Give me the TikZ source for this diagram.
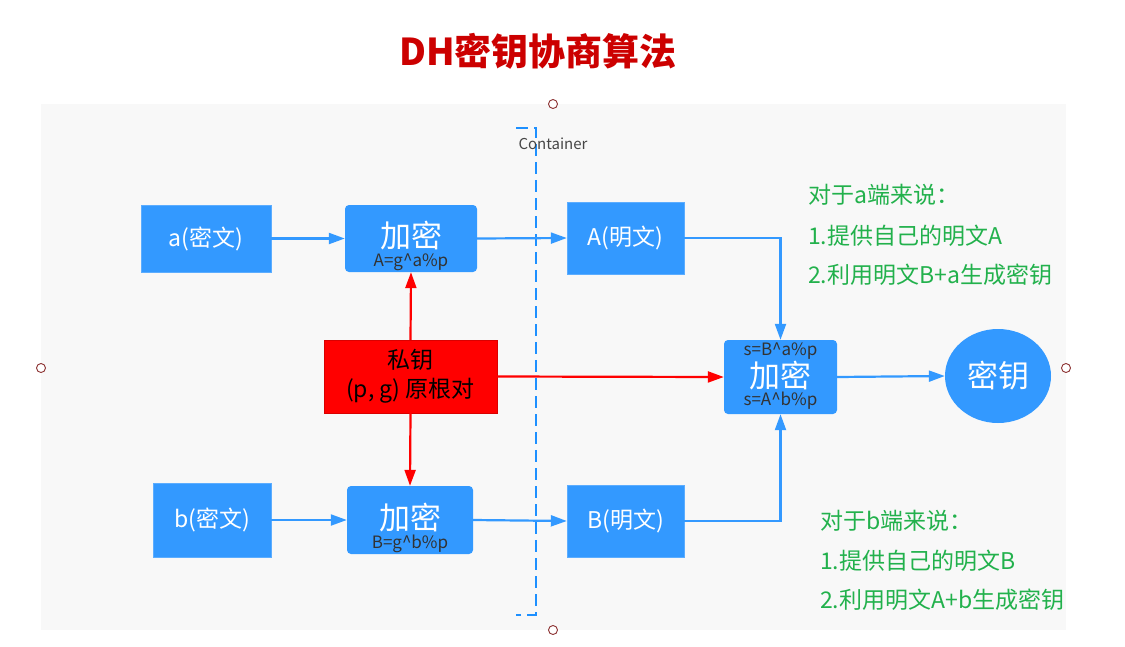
\documentclass[tikz,border=0pt]{standalone}
\usepackage{fontspec}
\setmainfont{Noto Sans CJK SC}
\usetikzlibrary{arrows.meta,shapes.geometric}
\definecolor{bluebox}{RGB}{51,153,255}
\definecolor{redbox}{RGB}{255,0,0}
\definecolor{titlered}{RGB}{204,0,0}
\definecolor{greentext}{RGB}{34,177,76}
\definecolor{bggray}{RGB}{248,248,248}
\definecolor{dashblue}{RGB}{30,144,255}
\definecolor{handle}{RGB}{140,50,50}
\definecolor{subtext}{RGB}{50,50,50}
\tikzset{
  bluerect/.style={rectangle,fill=bluebox,draw=bluebox!80!white,text=white,inner sep=0pt,font=\fontsize{23}{26}\selectfont},
  encbox/.style={rectangle,rounded corners=4pt,fill=bluebox,text=white,inner sep=0pt},
  enctext/.style={text=white,inner sep=0pt,font=\fontsize{31}{34}\selectfont},
  subt/.style={text=subtext,inner sep=0pt,font=\fontsize{17}{19}\selectfont},
  bluearrow/.style={draw=bluebox,line width=2.2pt,-{Triangle[length=16pt,width=11pt]}},
  redarrow/.style={draw=redbox,line width=2.2pt,-{Triangle[length=16pt,width=11pt]}},
  greenline/.style={text=greentext,anchor=west,inner sep=0pt,font=\fontsize{23}{26}\selectfont},
  handlecirc/.style={circle,draw=handle,fill=white,line width=0.9pt,minimum size=9pt,inner sep=0pt},
}
\begin{document}
\begin{tikzpicture}[x=1pt,y=-1pt]
\useasboundingbox[fill=white] (0,0) rectangle (1125,646);
% background
\fill[bggray] (41,104) rectangle (1066,630);
% title
\node[text=titlered,font=\fontsize{37}{42}\selectfont\bfseries] (title) at (538,51) {DH密钥协商算法};
% container
\draw[dashblue,line width=2.5pt,dash pattern=on 12pt off 6pt] (516,128) -- (536,128) -- (536,615) -- (516,615);
\node[text=subtext!90!white,font=\fontsize{15}{17}\selectfont,inner sep=0pt] (cont) at (553,144) {Container};
% nodes
\node[bluerect,minimum width=130pt,minimum height=67pt] (a) at (206,238.5) {a(密文)};
\node[encbox,minimum width=132pt,minimum height=67pt] (ea) at (411,238.5) {};
\node[enctext] (eat) at (411,236) {加密};
\node[subt] (eas) at (411,262) {A=g\^{}a\%p};
\node[bluerect,minimum width=117pt,minimum height=72pt] (A) at (625.5,238) {A(明文)};

\node[rectangle,fill=redbox,draw=redbox!85!black,inner sep=0pt,minimum width=173pt,minimum height=73pt,align=center,font=\fontsize{23}{29}\selectfont] (key) at (410.5,376.5) {私钥\\(p, g) 原根对};

\node[bluerect,minimum width=118pt,minimum height=74pt] (b) at (212,520) {b(密文)};
\node[encbox,minimum width=126pt,minimum height=68pt] (eb) at (410,520) {};
\node[enctext] (ebt) at (410,518) {加密};
\node[subt] (ebs) at (410,544) {B=g\^{}b\%p};
\node[bluerect,minimum width=117pt,minimum height=72pt] (B) at (625.5,521) {B(明文)};

\node[encbox,minimum width=113pt,minimum height=74pt] (es) at (780.5,377) {};
\node[enctext] (est) at (780.5,376) {加密};
\node[subt] (es1) at (780.5,351) {s=B\^{}a\%p};
\node[subt] (es2) at (780.5,401) {s=A\^{}b\%p};

\node[ellipse,fill=bluebox,text=white,inner sep=0pt,minimum width=106pt,minimum height=94pt,font=\fontsize{31}{34}\selectfont] (k) at (998,376) {密钥};

% connectors
\draw[bluearrow] (a.east) -- (ea.west);
\draw[bluearrow] (ea.east) -- (A.west);
\draw[bluearrow] (b.east) -- (eb.west);
\draw[bluearrow] (eb.east) -- (B.west);
\draw[bluearrow] (A.east) -| (es.north);
\draw[bluearrow] (B.east) -| (es.south);
\draw[bluearrow] (es.east) -- (k.west);
\draw[redarrow] (key.north) -- (ea.south);
\draw[redarrow] (key.south) -- (eb.north);
\draw[redarrow] (key.east) -- (es.west);

% green notes
\node[greenline] (ga0) at (808,195) {对于a端来说：};
\node[greenline] (ga1) at (808,236) {1.提供自己的明文A};
\node[greenline] (ga2) at (808,275) {2.利用明文B+a生成密钥};
\node[greenline] (gb0) at (820,521) {对于b端来说：};
\node[greenline] (gb1) at (820,561) {1.提供自己的明文B};
\node[greenline] (gb2) at (820,600) {2.利用明文A+b生成密钥};

% handles
\node[handlecirc] (h1) at (553,104) {};
\node[handlecirc] (h2) at (41,368) {};
\node[handlecirc] (h3) at (1066,368) {};
\node[handlecirc] (h4) at (553,630) {};
\end{tikzpicture}
\end{document}
